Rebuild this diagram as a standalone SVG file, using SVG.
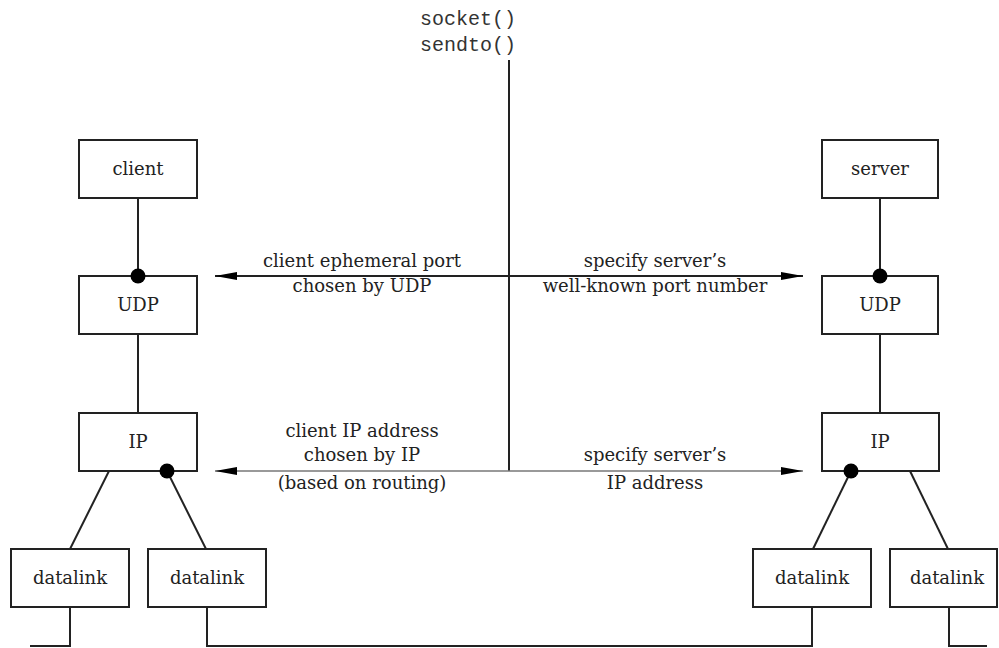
<svg xmlns="http://www.w3.org/2000/svg" width="999" height="648" viewBox="0 0 999 648">
<style>
.box{fill:#fff;stroke:#222;stroke-width:2}
.ln{fill:none;stroke:#222;stroke-width:2}
.thin{fill:none;stroke:#777;stroke-width:1.3}
.t{font-family:"DejaVu Serif","Liberation Serif",serif;font-size:18px;fill:#222;text-anchor:middle}
.m{font-family:"Liberation Mono","Courier New",monospace;font-size:20px;fill:#333}
.dot{fill:#000}
</style>
<defs>
<marker id="ah" viewBox="0 0 22 10" refX="22" refY="5" markerWidth="22" markerHeight="10" markerUnits="userSpaceOnUse" orient="auto-start-reverse">
<path d="M0,1 L22,5 L0,9 z" fill="#000"/>
</marker>
</defs>
<rect width="999" height="648" fill="#fff"/>
<g id="connectors">
<line class="ln" x1="509" y1="60" x2="509" y2="471"/>
<line class="ln" x1="215" y1="276" x2="803" y2="276" marker-start="url(#ah)" marker-end="url(#ah)"/>
<line class="thin" x1="215" y1="471" x2="803" y2="471" marker-start="url(#ah)" marker-end="url(#ah)"/>
<line class="ln" x1="138" y1="198" x2="138" y2="276"/>
<line class="ln" x1="138" y1="334" x2="138" y2="413"/>
<line class="ln" x1="880" y1="198" x2="880" y2="276"/>
<line class="ln" x1="880" y1="334" x2="880" y2="413"/>
<line class="ln" x1="109" y1="471" x2="70" y2="549"/>
<line class="ln" x1="167" y1="471" x2="206" y2="549"/>
<line class="ln" x1="851" y1="471" x2="813" y2="549"/>
<line class="ln" x1="910" y1="471" x2="948" y2="549"/>
<polyline class="ln" points="70,607 70,646 30,646"/>
<polyline class="ln" points="207,607 207,646 812,646 812,607"/>
<polyline class="ln" points="949,607 949,646 987,646"/>
</g>
<g id="api-label">
<text class="m" x="420" y="25">socket()</text>
<text class="m" x="420" y="51">sendto()</text>
</g>
<g id="client"><rect class="box" x="79" y="140" width="118" height="58"/><text class="t" x="138" y="175">client</text></g>
<g id="client-udp"><rect class="box" x="79" y="276" width="118" height="58"/><text class="t" x="138" y="311">UDP</text><circle class="dot" cx="138" cy="276" r="7.5"/></g>
<g id="client-ip"><rect class="box" x="79" y="413" width="118" height="58"/><text class="t" x="138" y="448">IP</text><circle class="dot" cx="167" cy="471" r="7.5"/></g>
<g id="client-dl1"><rect class="box" x="11" y="549" width="118" height="58"/><text class="t" x="70" y="584">datalink</text></g>
<g id="client-dl2"><rect class="box" x="148" y="549" width="118" height="58"/><text class="t" x="207" y="584">datalink</text></g>
<g id="server"><rect class="box" x="822" y="140" width="116" height="58"/><text class="t" x="880" y="175">server</text></g>
<g id="server-udp"><rect class="box" x="822" y="276" width="116" height="58"/><text class="t" x="880" y="311">UDP</text><circle class="dot" cx="880" cy="276" r="7.5"/></g>
<g id="server-ip"><rect class="box" x="822" y="413" width="117" height="58"/><text class="t" x="880" y="448">IP</text><circle class="dot" cx="851" cy="471" r="7.5"/></g>
<g id="server-dl1"><rect class="box" x="753" y="549" width="118" height="58"/><text class="t" x="812" y="584">datalink</text></g>
<g id="server-dl2"><rect class="box" x="890" y="549" width="107" height="58"/><text class="t" x="947" y="584">datalink</text></g>
<g id="labels">
<text class="t" x="362" y="267">client ephemeral port</text>
<text class="t" x="362" y="292">chosen by UDP</text>
<text class="t" x="655" y="267">specify server’s</text>
<text class="t" x="655" y="292">well-known port number</text>
<text class="t" x="362" y="437">client IP address</text>
<text class="t" x="362" y="461">chosen by IP</text>
<text class="t" x="362" y="489">(based on routing)</text>
<text class="t" x="655" y="461">specify server’s</text>
<text class="t" x="655" y="489">IP address</text>
</g>
</svg>
